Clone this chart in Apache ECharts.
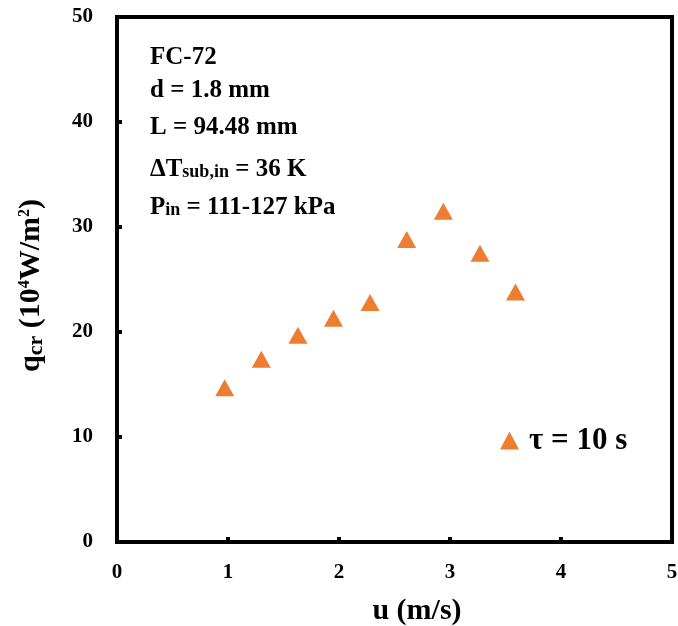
<!DOCTYPE html>
<html>
<head>
<meta charset="utf-8">
<script src="https://cdn.jsdelivr.net/npm/echarts@6/dist/echarts.min.js"></script>
<style>html,body{margin:0;padding:0;background:#fff;}#c{width:678px;height:626px;}</style>
</head>
<body>
<div id="c"></div>
<script>
// Data
var seriesName = 'τ = 10 s';
var uValues = [0.97, 1.30, 1.63, 1.95, 2.28, 2.61, 2.94, 3.27, 3.59];
var qValues = [14.7, 17.4, 19.7, 21.3, 22.8, 28.8, 31.5, 27.5, 23.8];
var xTickRange = [0, 5, 1];
var yTickRange = [0, 50, 10];
var annotations = [
  'FC-72',
  'd = 1.8 mm',
  'L = 94.48 mm',
  'ΔT{sub|sub,in} = 36 K',
  'P{sub|in} = 111-127 kPa'
];

var FONT = 'Liberation Serif';
var chart = echarts.init(document.getElementById('c'));
var pts = uValues.map(function (u, i) { return [u, qValues[i]]; });
var annTop = [45, 78, 115, 157, 195];

chart.setOption({
  backgroundColor: '#fff',
  animation: false,
  grid: { left: 117, right: 6, top: 17, bottom: 84, outerBoundsMode: 'none', containLabel: false, show: true, borderColor: '#000', borderWidth: 4, backgroundColor: 'transparent' },
  xAxis: {
    type: 'value', min: xTickRange[0], max: xTickRange[1], interval: xTickRange[2],
    name: 'u (m/s)', nameLocation: 'middle', nameGap: 54,
    nameTextStyle: { fontFamily: FONT, fontWeight: 'bold', fontSize: 30, color: '#000', padding: [0, 0, 0, 45] },
    axisLine: { show: true, lineStyle: { color: '#000', width: 4 } },
    axisTick: { show: true, inside: true, length: 5, lineStyle: { color: '#000', width: 4 } },
    axisLabel: { fontFamily: FONT, fontWeight: 'bold', fontSize: 21, color: '#000', margin: 20 },
    splitLine: { show: false }
  },
  yAxis: {
    type: 'value', min: yTickRange[0], max: yTickRange[1], interval: yTickRange[2],
    name: 'q{sub|cr} (10{sup|4}W/m{sup|2})', nameLocation: 'middle', nameRotate: 90, nameGap: 70,
    nameTextStyle: {
      fontFamily: FONT, fontWeight: 'bold', fontSize: 30, color: '#000', padding: [0, 12, 0, 0],
      rich: {
        sub: { fontFamily: FONT, fontWeight: 'bold', fontSize: 22, color: '#000', padding: [9, 0, 0, 0] },
        sup: { fontFamily: FONT, fontWeight: 'bold', fontSize: 16, color: '#000', padding: [0, 0, 13, 0] }
      }
    },
    axisLine: { show: true, lineStyle: { color: '#000', width: 4 } },
    axisTick: { show: true, inside: true, length: 5, lineStyle: { color: '#000', width: 4 } },
    axisLabel: { fontFamily: FONT, fontWeight: 'bold', fontSize: 21, color: '#000', margin: 24 },
    splitLine: { show: false }
  },
  legend: {
    left: 495, top: 420, orient: 'vertical',
    itemWidth: 19, itemHeight: 18,
    data: [{ name: seriesName, icon: 'triangle' }],
    textStyle: { fontFamily: FONT, fontWeight: 'bold', fontSize: 31, color: '#000', padding: [0, 0, 0, 5] }
  },
  graphic: annotations.map(function (t, i) {
    return {
      type: 'text', left: 150, top: annTop[i], silent: true,
      style: {
        text: t, fill: '#000',
        font: 'bold 25px "' + FONT + '"',
        rich: {
          sub: { fontFamily: FONT, fontWeight: 'bold', fontSize: 18, fill: '#000', padding: [6, 0, 0, 0] }
        }
      }
    };
  }),
  series: [{
    name: seriesName, type: 'scatter', symbol: 'triangle', symbolSize: [19, 17],
    itemStyle: { color: '#ED7D31', opacity: 1 },
    data: pts
  }]
});
</script>
</body>
</html>
